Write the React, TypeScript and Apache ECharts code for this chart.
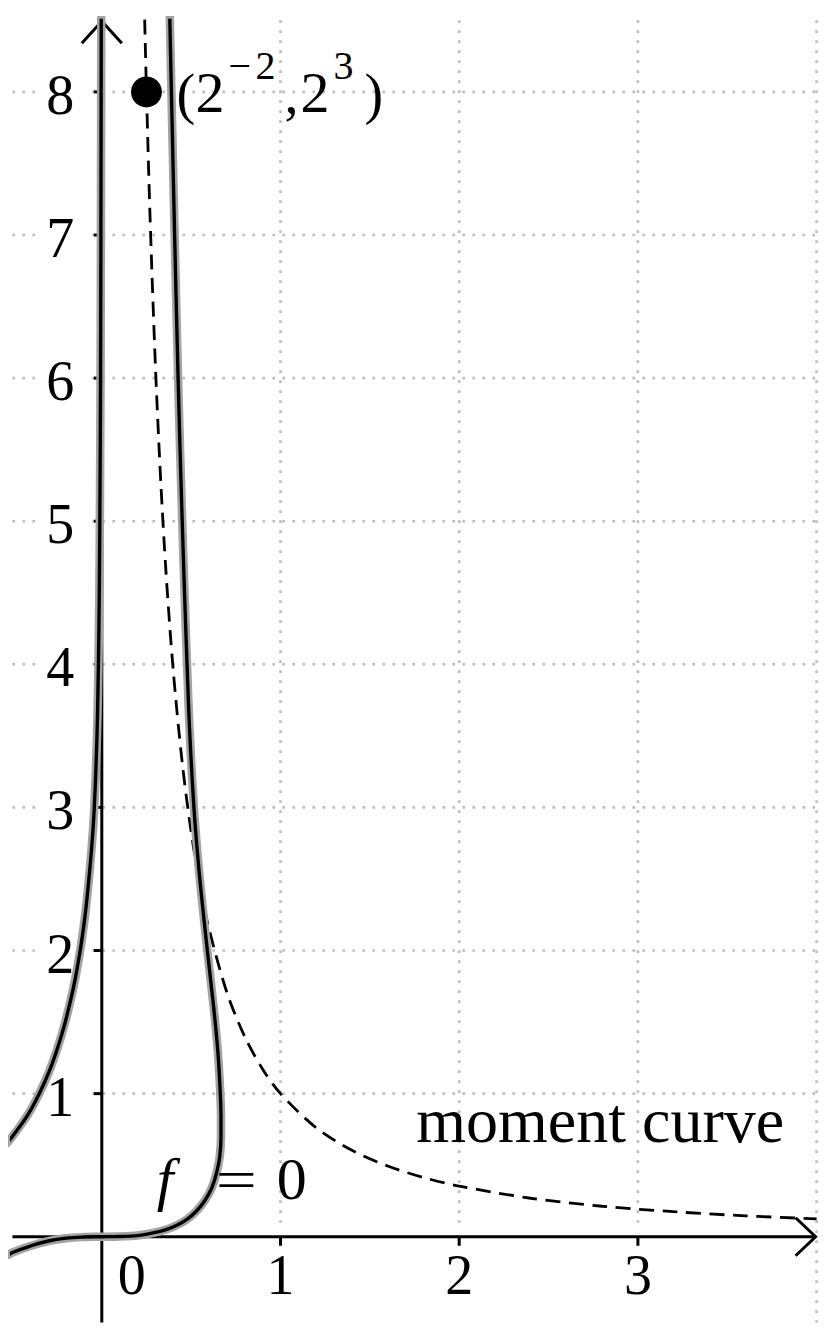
import React, { useEffect, useRef } from "react";
import * as echarts from "echarts";

// ---- axis ranges ----
const X_MIN = -0.5;
const X_MAX = 4;
const Y_MIN = -0.6;
const Y_MAX = 8.5;

// ---- ticks / grid ----
const xTicks = [1, 2, 3];
const xTickLabels = [0, 1, 2, 3];
const yTicks = [1, 2, 3, 4, 5, 6, 7, 8];
const xGrid = [1, 2, 3, 4];
const yGrid = [1, 2, 3, 4, 5, 6, 7, 8];

// ---- moment curve (dashed) ----
const momentX = [0.24, 0.25, 0.27, 0.3, 0.33, 0.36, 0.4, 0.45, 0.5, 0.55, 0.6, 0.7, 0.8, 0.9, 1.0, 1.2, 1.4, 1.6, 1.8, 2.0, 2.4, 2.8, 3.2, 3.6, 4.0];
const momentY = [8.505, 8.0, 7.128, 6.086, 5.275, 4.63, 3.953, 3.313, 2.828, 2.452, 2.152, 1.707, 1.398, 1.171, 1.0, 0.761, 0.604, 0.494, 0.414, 0.354, 0.269, 0.213, 0.175, 0.146, 0.125];

// ---- f = 0, left branch ----
const fLeftX = [-0.53, -0.495, -0.415, -0.35, -0.296, -0.2525, -0.211, -0.175, -0.149, -0.121, -0.098, -0.084, -0.058, -0.042, -0.027, -0.019, -0.014, -0.011, -0.007, -0.005, -0.003];
const fLeftY = [0.655, 0.71, 0.85, 1.0, 1.15, 1.3, 1.47, 1.65, 1.8, 2.0, 2.2, 2.35, 2.7, 3.0, 3.5, 4.0, 4.5, 5.0, 6.0, 7.0, 8.6];

// ---- f = 0, main branch ----
const fMainX = [-0.52, -0.5, -0.4, -0.3, -0.2, -0.1, 0, 0.1, 0.2, 0.3, 0.36, 0.42, 0.48, 0.53, 0.575, 0.615, 0.643, 0.66, 0.667, 0.667, 0.663, 0.652, 0.6345, 0.613, 0.5905, 0.5565, 0.534, 0.5155, 0.493, 0.477, 0.463, 0.45, 0.438, 0.427, 0.417, 0.4075, 0.3985, 0.3895, 0.379];
const fMainY = [-0.125, -0.11, -0.065, -0.03, -0.01, -0.002, 0, 0.002, 0.008, 0.03, 0.05, 0.08, 0.125, 0.18, 0.25, 0.34, 0.45, 0.56, 0.7, 0.85, 1.0, 1.25, 1.5, 1.75, 2.0, 2.4, 2.7, 3.0, 3.5, 4.0, 4.5, 5.0, 5.5, 6.0, 6.5, 7.0, 7.5, 8.0, 8.6];

// ---- marked point ----
const pointX = 0.25;
const pointY = 8;

// annotation anchors (data coords)
const MOMENT_LABEL_AT = [1.76, 0.66];
const F_LABEL_AT = [0.33, 0.263];

const FONT_FAMILY = "Liberation Serif";
const CENTRAL = 0.3375; // central baseline offset (em) for Liberation Serif

function txt(text: string, x: number, baseline: number, size: number, opts: any = {}) {
  const el: any = {
    type: "text",
    style: {
      text,
      x,
      y: baseline - CENTRAL * size,
      fontSize: size,
      fontFamily: FONT_FAMILY,
      fontStyle: opts.italic ? "italic" : "normal",
      fill: "#000",
      align: opts.align || "left",
      verticalAlign: "middle",
    },
  };
  if (opts.scaleX) {
    el.scaleX = opts.scaleX;
    el.originX = x;
    el.originY = baseline;
  }
  return el;
}

export default function App() {
  const ref = useRef<HTMLDivElement>(null);

  useEffect(() => {
    if (!ref.current) return;
    const chart = echarts.init(ref.current, null, { renderer: "svg" });

    const pairs = (xs: number[], ys: number[]) => xs.map((x, i) => [x, ys[i]]);

    const gridData = [...xGrid.map((v) => [v, 0]), ...yGrid.map((v) => [v, 1])];
    const labelData = [...xTickLabels.map((v) => [v, 0]), ...yTicks.map((v) => [v, 1])];

    const curve = (name: string, xs: number[], ys: number[], z: number, color: string, width: number) => ({
      type: "line",
      name,
      z,
      data: pairs(xs, ys),
      showSymbol: false,
      smooth: 0.4,
      clip: true,
      silent: true,
      lineStyle: { color, width, cap: "round", join: "round" },
    });

    const option: any = {
      animation: false,
      grid: { left: 12.45, right: 13.4, top: 20.35, bottom: 20.4, containLabel: false },
      xAxis: { type: "value", min: X_MIN, max: X_MAX, show: false },
      yAxis: { type: "value", min: Y_MIN, max: Y_MAX, show: false },
      series: [
        {
          type: "custom",
          name: "grid",
          z: 1,
          silent: true,
          data: gridData,
          renderItem: (params: any, api: any) => {
            const v = api.value(0);
            const horiz = api.value(1) === 1;
            const p1 = horiz ? api.coord([X_MIN, v]) : api.coord([v, Y_MAX]);
            const p2 = horiz ? api.coord([X_MAX, v]) : api.coord([v, Y_MIN]);
            return {
              type: "line",
              shape: { x1: p1[0], y1: p1[1], x2: p2[0], y2: p2[1] },
              style: { stroke: "#bcbcbc", lineWidth: 2.6, lineDash: [2.6, 7.4] },
            };
          },
        },
        {
          type: "custom",
          name: "tickLabels",
          z: 2,
          silent: true,
          data: labelData,
          renderItem: (params: any, api: any) => {
            const v = api.value(0);
            const isY = api.value(1) === 1;
            const size = 56;
            if (!isY) {
              const p = api.coord([v, 0]);
              const bottom = api.coord([v, Y_MIN])[1];
              const cx = p[0] + (v === 0 ? 30 : 0);
              const cy = p[1] + 38.5;
              return {
                type: "group",
                children: [
                  { type: "rect", shape: { x: cx - 20, y: p[1] - 14, width: 40, height: bottom - p[1] + 16 }, style: { fill: "#fff" } },
                  {
                    type: "text",
                    style: { text: String(v), x: cx, y: cy, fontSize: size, fontFamily: FONT_FAMILY, fill: "#000", align: "center", verticalAlign: "middle" },
                  },
                ],
              };
            }
            const p = api.coord([0, v]);
            const rx = p[0] - 27.5;
            const cy = p[1] + 3;
            return {
              type: "group",
              children: [
                { type: "rect", shape: { x: p[0] - 64, y: p[1] - 22, width: 54, height: 44 }, style: { fill: "#fff" } },
                {
                  type: "text",
                  style: { text: String(v), x: rx, y: cy, fontSize: size, fontFamily: FONT_FAMILY, fill: "#000", align: "right", verticalAlign: "middle" },
                },
              ],
            };
          },
        },
        {
          type: "custom",
          name: "axes",
          z: 3,
          silent: true,
          data: [[0, 0]],
          renderItem: (params: any, api: any) => {
            const xl = api.coord([X_MIN, 0]);
            const xr = api.coord([X_MAX, 0]);
            const yb = api.coord([0, Y_MIN]);
            const yt = api.coord([0, Y_MAX]);
            const st = { stroke: "#000", lineWidth: 3, fill: null, lineCap: "butt" };
            const children: any[] = [
              { type: "line", shape: { x1: xl[0], y1: xl[1], x2: xr[0] - 1, y2: xr[1] }, style: st },
              { type: "line", shape: { x1: yb[0], y1: yb[1], x2: yt[0], y2: yt[1] + 1 }, style: st },
              {
                type: "polyline",
                shape: { points: [[xr[0] - 21, xr[1] - 19], [xr[0] - 1, xr[1]], [xr[0] - 21, xr[1] + 19]] },
                style: { ...st, lineJoin: "miter" },
              },
              {
                type: "polyline",
                shape: { points: [[yt[0] - 20, yt[1] + 23], [yt[0], yt[1] + 1], [yt[0] + 20, yt[1] + 23]] },
                style: { ...st, lineJoin: "miter" },
              },
            ];
            xTicks.forEach((t) => {
              const p = api.coord([t, 0]);
              children.push({ type: "line", shape: { x1: p[0], y1: p[1], x2: p[0], y2: p[1] + 9 }, style: st });
            });
            yTicks.forEach((t) => {
              const p = api.coord([0, t]);
              children.push({ type: "line", shape: { x1: p[0] - 8, y1: p[1], x2: p[0], y2: p[1] }, style: st });
            });
            return { type: "group", children };
          },
        },
        {
          type: "line",
          name: "moment curve",
          z: 4,
          data: pairs(momentX, momentY),
          showSymbol: false,
          smooth: 0.3,
          clip: true,
          silent: true,
          lineStyle: { color: "#000", width: 2.8, type: [15, 8.5] },
        },
        curve("f halo left", fLeftX, fLeftY, 5, "#a3a3a3", 8.5),
        curve("f halo main", fMainX, fMainY, 5, "#a3a3a3", 8.5),
        curve("f left", fLeftX, fLeftY, 6, "#000", 3.4),
        curve("f main", fMainX, fMainY, 6, "#000", 3.4),
        {
          type: "scatter",
          name: "point",
          z: 7,
          silent: true,
          data: [[pointX, pointY]],
          symbol: "circle",
          symbolSize: 31,
          itemStyle: { color: "#000", opacity: 1 },
        },
        {
          type: "custom",
          name: "annotations",
          z: 8,
          silent: true,
          data: [[pointX, pointY]],
          renderItem: (params: any, api: any) => {
            const p = api.coord([api.value(0), api.value(1)]);
            const px = p[0];
            const py = p[1];
            const mb = py + 20.5; // main baseline
            const sb = py - 12.5; // superscript baseline
            const mp = api.coord(MOMENT_LABEL_AT);
            const fp = api.coord(F_LABEL_AT);
            return {
              type: "group",
              children: [
                txt("(", px + 30, mb, 56),
                txt("2", px + 49, mb, 58),
                txt("\u2212", px + 82, sb, 40),
                txt("2", px + 109, sb, 40),
                txt(",", px + 138, mb, 56),
                txt("2", px + 154, mb, 58),
                txt("3", px + 187, sb, 40),
                txt(")", px + 218, mb, 56),
                txt("moment curve", mp[0], mp[1], 64),
                txt("f", fp[0] - 4, fp[1], 60, { italic: true }),
                txt("=", fp[0] + 55, fp[1], 56, { scaleX: 1.3 }),
                txt("0", fp[0] + 116, fp[1], 60),
              ],
            };
          },
        },
      ],
    };

    chart.setOption(option);
    return () => chart.dispose();
  }, []);

  return (
    <div
      ref={ref}
      style={{ position: "fixed", left: 0, top: 0, width: 830, height: 1343, background: "#fff" }}
    />
  );
}
